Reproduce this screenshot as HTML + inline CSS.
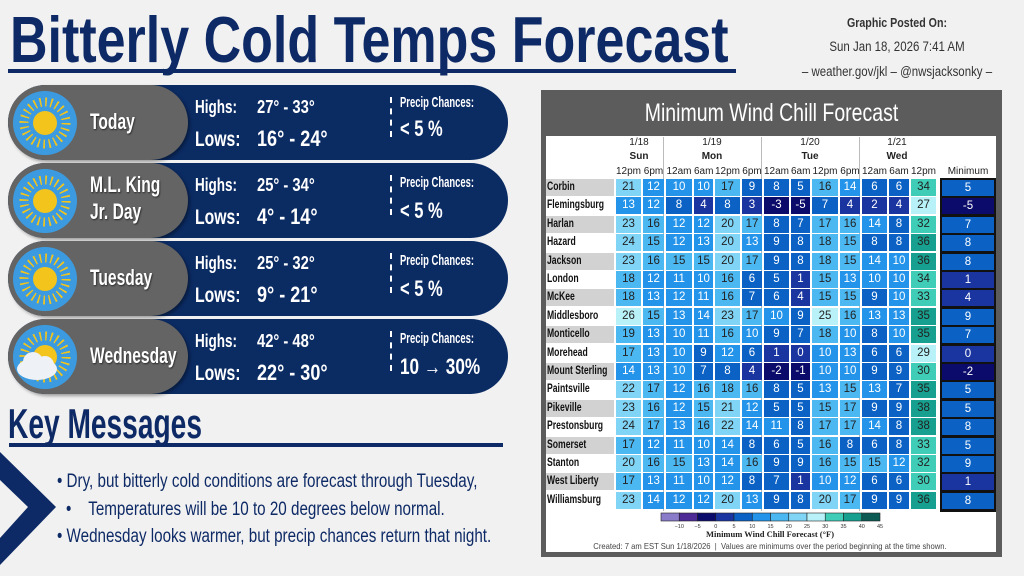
<!DOCTYPE html>
<html><head><meta charset="utf-8"><style>
*{margin:0;padding:0;box-sizing:border-box}
body{width:1024px;height:576px;background:#f1f1f1;position:relative;overflow:hidden;font-family:"Liberation Sans",sans-serif}
.t{position:absolute;white-space:nowrap;line-height:1;transform-origin:0 0}
.b{font-weight:bold}
.w{color:#fff}
.nv{color:#0e2a66}
.card{position:absolute;left:8px;width:500px;height:75px;background:#0b2b63;border-radius:38px}
.pill{position:absolute;left:8px;width:180px;height:75px;background:#646464;border-radius:38px;box-shadow:2px 2px 3px rgba(0,0,0,.35)}
.ico{position:absolute;left:11px}
.dash{position:absolute;left:390px;width:2px;border-left:2px dashed #fff;height:40px}
.sh{text-shadow:1px 1px 2px rgba(0,0,0,.6)}
.row{position:absolute;left:616px;height:17px;display:flex;gap:2px}
.row div{height:17px;font-size:11.5px;line-height:17px;text-align:center;color:#fff}
.row div:nth-child(1){width:25px}.row div:nth-child(2){width:21px}.row div:nth-child(3){width:26px}
.row div:nth-child(4){width:19px}.row div:nth-child(5){width:25px}.row div:nth-child(6){width:20px}
.row div:nth-child(7){width:25px}.row div:nth-child(8){width:19px}.row div:nth-child(9){width:26px}
.row div:nth-child(10){width:20px}.row div:nth-child(11){width:25px}.row div:nth-child(12){width:20px}
.row div:nth-child(13){width:25px}
.nm{position:absolute;left:546px;width:68px;height:17px;font-size:11.5px;font-weight:bold;line-height:17px;color:#111;padding-left:1px;white-space:nowrap}
.nm span{display:inline-block;transform:scaleX(.75);transform-origin:0 50%}
.g{background:#d2d2d2}
.mn{position:absolute;left:942px;width:52px;height:16px;font-size:11.5px;line-height:16px;text-align:center;color:#fff}
.n{background:#0b0b6b}.d{background:#1a35a0}.m{background:#0b62c4}.bb{background:#2394ea}
.l{background:#4cb8f2;color:#222!important}.p{background:#80d4f6;color:#222!important}.q{background:#b8f2f8;color:#222!important}
.tt{background:#3fcdb8;color:#222!important}.u{background:#17a08f;color:#222!important}
.hd{position:absolute;font-size:10px;line-height:1;color:#222;text-align:center;white-space:nowrap}
.vl{position:absolute;top:137px;width:1px;height:374px;background:#bbb}
</style></head><body>

<!-- Title -->
<div class="t b nv" style="left:10px;top:7px;font-size:65px;transform:scaleX(.8)">Bitterly Cold Temps Forecast</div>
<div style="position:absolute;left:8px;top:69px;width:728px;height:4px;background:#0e2a66"></div>

<!-- top right -->
<div class="t b" style="left:777px;top:16px;width:240px;text-align:center;font-size:13px;color:#333;transform:scaleX(.82);transform-origin:50% 0">Graphic Posted On:</div>
<div class="t" style="left:777px;top:40px;width:240px;text-align:center;font-size:13.5px;color:#333;transform:scaleX(.85);transform-origin:50% 0">Sun Jan 18, 2026 7:41 AM</div>
<div class="t" style="left:757px;top:65px;width:280px;text-align:center;font-size:13.5px;color:#333;transform:scaleX(.85);transform-origin:50% 0">– weather.gov/jkl – @nwsjacksonky –</div>

<svg width="0" height="0" style="position:absolute"><defs>
<g id="sun"><circle cx="34" cy="34" r="32" fill="#3c9be0"/>
<circle cx="34" cy="34" r="21" fill="none" stroke="#f2c41c" stroke-width="9" stroke-dasharray="1.6 3.9"/>
<circle cx="34" cy="34" r="12" fill="#f2c41c"/></g>
</defs></svg>

<!-- Card 1 -->
<div class="card" style="top:85px"></div><div class="pill" style="top:85px"></div>
<svg class="ico" style="top:89px" width="68" height="68"><use href="#sun"/></svg>
<div class="t b w sh" style="left:90px;top:111px;font-size:22px;transform:scaleX(.71)">Today</div>
<div class="t b w" style="left:195px;top:98px;font-size:18px;transform:scaleX(.75)">Highs:</div>
<div class="t b w" style="left:257px;top:98px;font-size:18px;transform:scaleX(.82)">27° - 33°</div>
<div class="t b w" style="left:195px;top:129px;font-size:21px;transform:scaleX(.75)">Lows:</div>
<div class="t b w" style="left:257px;top:128px;font-size:22px;transform:scaleX(.82)">16° - 24°</div>
<div class="dash" style="top:97px"></div>
<div class="t b w" style="left:400px;top:95px;font-size:15px;transform:scaleX(.63)">Precip Chances:</div>
<div class="t b w" style="left:400px;top:118px;font-size:22px;transform:scaleX(.75)">&lt; 5 %</div>

<!-- Card 2 -->
<div class="card" style="top:163px"></div><div class="pill" style="top:163px"></div>
<svg class="ico" style="top:167px" width="68" height="68"><use href="#sun"/></svg>
<div class="t b w sh" style="left:90px;top:174px;font-size:22px;transform:scaleX(.71)">M.L. King</div>
<div class="t b w sh" style="left:90px;top:201px;font-size:22px;transform:scaleX(.71)">Jr. Day</div>
<div class="t b w" style="left:195px;top:176px;font-size:18px;transform:scaleX(.75)">Highs:</div>
<div class="t b w" style="left:257px;top:176px;font-size:18px;transform:scaleX(.82)">25° - 34°</div>
<div class="t b w" style="left:195px;top:207px;font-size:21px;transform:scaleX(.75)">Lows:</div>
<div class="t b w" style="left:257px;top:206px;font-size:22px;transform:scaleX(.82)">4° - 14°</div>
<div class="dash" style="top:175px"></div>
<div class="t b w" style="left:400px;top:175px;font-size:15px;transform:scaleX(.63)">Precip Chances:</div>
<div class="t b w" style="left:400px;top:200px;font-size:22px;transform:scaleX(.75)">&lt; 5 %</div>

<!-- Card 3 -->
<div class="card" style="top:241px"></div><div class="pill" style="top:241px"></div>
<svg class="ico" style="top:245px" width="68" height="68"><use href="#sun"/></svg>
<div class="t b w sh" style="left:90px;top:267px;font-size:22px;transform:scaleX(.71)">Tuesday</div>
<div class="t b w" style="left:195px;top:254px;font-size:18px;transform:scaleX(.75)">Highs:</div>
<div class="t b w" style="left:257px;top:254px;font-size:18px;transform:scaleX(.82)">25° - 32°</div>
<div class="t b w" style="left:195px;top:285px;font-size:21px;transform:scaleX(.75)">Lows:</div>
<div class="t b w" style="left:257px;top:284px;font-size:22px;transform:scaleX(.82)">9° - 21°</div>
<div class="dash" style="top:253px"></div>
<div class="t b w" style="left:400px;top:253px;font-size:15px;transform:scaleX(.63)">Precip Chances:</div>
<div class="t b w" style="left:400px;top:278px;font-size:22px;transform:scaleX(.75)">&lt; 5 %</div>

<!-- Card 4 -->
<div class="card" style="top:319px"></div><div class="pill" style="top:319px"></div>
<svg class="ico" style="top:323px" width="68" height="68"><use href="#sun"/>
<ellipse cx="26" cy="46" rx="20" ry="11" fill="#eef2f6"/><circle cx="22" cy="39" r="10" fill="#eef2f6"/><circle cx="34" cy="42" r="9" fill="#eef2f6"/></svg>
<div class="t b w sh" style="left:90px;top:345px;font-size:22px;transform:scaleX(.71)">Wednesday</div>
<div class="t b w" style="left:195px;top:332px;font-size:18px;transform:scaleX(.75)">Highs:</div>
<div class="t b w" style="left:257px;top:332px;font-size:18px;transform:scaleX(.82)">42° - 48°</div>
<div class="t b w" style="left:195px;top:363px;font-size:21px;transform:scaleX(.75)">Lows:</div>
<div class="t b w" style="left:257px;top:362px;font-size:22px;transform:scaleX(.82)">22° - 30°</div>
<div class="dash" style="top:331px"></div>
<div class="t b w" style="left:400px;top:331px;font-size:15px;transform:scaleX(.63)">Precip Chances:</div>
<div class="t b w" style="left:400px;top:356px;font-size:22px;transform:scaleX(.78)">10 → 30%</div>

<!-- Key messages -->
<div class="t b nv" style="left:8px;top:403px;font-size:42px;transform:scaleX(.67)">Key Messages</div>
<div style="position:absolute;left:9px;top:443px;width:494px;height:4px;background:#0e2a66"></div>
<svg style="position:absolute;left:0;top:450px" width="60" height="120"><polygon points="0,2 56,57 0,115 0,88 28,57 0,30" fill="#0e2a66"/></svg>
<div class="t nv" style="left:57px;top:472px;font-size:19px;transform:scaleX(.8)">• Dry, but bitterly cold conditions are forecast through Tuesday,</div>
<div class="t nv" style="left:66px;top:500px;font-size:19px;transform:scaleX(.8)">•&nbsp;&nbsp;&nbsp;&nbsp;Temperatures will be 10 to 20 degrees below normal.</div>
<div class="t nv" style="left:57px;top:527px;font-size:19px;transform:scaleX(.8)">• Wednesday looks warmer, but precip chances return that night.</div>

<!-- Right panel -->
<div style="position:absolute;left:541px;top:90px;width:461px;height:467px;background:#5c5c5c"></div>
<div style="position:absolute;left:546px;top:136px;width:450px;height:416px;background:#fff"></div>
<div class="t w" style="left:541px;top:101px;width:461px;text-align:center;font-size:25px;transform:scaleX(.78);transform-origin:50% 0">Minimum Wind Chill Forecast</div>

<div class="vl" style="left:663px"></div><div class="vl" style="left:761px"></div><div class="vl" style="left:859px"></div>

<div class="hd" style="left:609px;top:138px;width:60px">1/18</div>
<div class="hd" style="left:682px;top:138px;width:60px">1/19</div>
<div class="hd" style="left:780px;top:138px;width:60px">1/20</div>
<div class="hd" style="left:867px;top:138px;width:60px">1/21</div>
<div class="hd b" style="left:609px;top:152px;width:60px">Sun</div>
<div class="hd b" style="left:682px;top:152px;width:60px">Mon</div>
<div class="hd b" style="left:780px;top:152px;width:60px">Tue</div>
<div class="hd b" style="left:867px;top:152px;width:60px">Wed</div>
<div class="row" style="top:166px"><div style="color:#222;height:12px;line-height:12px;font-size:10px">12pm</div><div style="color:#222;height:12px;line-height:12px;font-size:10px">6pm</div><div style="color:#222;height:12px;line-height:12px;font-size:10px">12am</div><div style="color:#222;height:12px;line-height:12px;font-size:10px">6am</div><div style="color:#222;height:12px;line-height:12px;font-size:10px">12pm</div><div style="color:#222;height:12px;line-height:12px;font-size:10px">6pm</div><div style="color:#222;height:12px;line-height:12px;font-size:10px">12am</div><div style="color:#222;height:12px;line-height:12px;font-size:10px">6am</div><div style="color:#222;height:12px;line-height:12px;font-size:10px">12pm</div><div style="color:#222;height:12px;line-height:12px;font-size:10px">6pm</div><div style="color:#222;height:12px;line-height:12px;font-size:10px">12am</div><div style="color:#222;height:12px;line-height:12px;font-size:10px">6am</div><div style="color:#222;height:12px;line-height:12px;font-size:10px">12pm</div></div>
<div class="hd" style="left:938px;top:167px;width:60px">Minimum</div>

<div style="position:absolute;left:940px;top:178px;width:56px;height:334px;background:#111"></div>

<!-- names -->
<div class="nm g" style="top:179px"><span>Corbin</span></div>
<div class="nm" style="top:197.4px"><span>Flemingsburg</span></div>
<div class="nm g" style="top:215.8px"><span>Harlan</span></div>
<div class="nm" style="top:234.2px"><span>Hazard</span></div>
<div class="nm g" style="top:252.6px"><span>Jackson</span></div>
<div class="nm" style="top:271px"><span>London</span></div>
<div class="nm g" style="top:289.4px"><span>McKee</span></div>
<div class="nm" style="top:307.8px"><span>Middlesboro</span></div>
<div class="nm g" style="top:326.2px"><span>Monticello</span></div>
<div class="nm" style="top:344.6px"><span>Morehead</span></div>
<div class="nm g" style="top:363px"><span>Mount Sterling</span></div>
<div class="nm" style="top:381.4px"><span>Paintsville</span></div>
<div class="nm g" style="top:399.8px"><span>Pikeville</span></div>
<div class="nm" style="top:418.2px"><span>Prestonsburg</span></div>
<div class="nm g" style="top:436.6px"><span>Somerset</span></div>
<div class="nm" style="top:455px"><span>Stanton</span></div>
<div class="nm g" style="top:473.4px"><span>West Liberty</span></div>
<div class="nm" style="top:491.8px"><span>Williamsburg</span></div>

<!-- data rows -->
<div class="row" style="top:179px"><div class="p">21</div><div class="bb">12</div><div class="bb">10</div><div class="bb">10</div><div class="l">17</div><div class="m">9</div><div class="m">8</div><div class="m">5</div><div class="l">16</div><div class="bb">14</div><div class="m">6</div><div class="m">6</div><div class="tt">34</div></div>
<div class="row" style="top:197.4px"><div class="bb">13</div><div class="bb">12</div><div class="m">8</div><div class="d">4</div><div class="m">8</div><div class="d">3</div><div class="n">-3</div><div class="n">-5</div><div class="m">7</div><div class="d">4</div><div class="d">2</div><div class="d">4</div><div class="q">27</div></div>
<div class="row" style="top:215.8px"><div class="p">23</div><div class="l">16</div><div class="bb">12</div><div class="bb">12</div><div class="p">20</div><div class="l">17</div><div class="m">8</div><div class="m">7</div><div class="l">17</div><div class="l">16</div><div class="bb">14</div><div class="m">8</div><div class="tt">32</div></div>
<div class="row" style="top:234.2px"><div class="p">24</div><div class="l">15</div><div class="bb">12</div><div class="bb">13</div><div class="p">20</div><div class="bb">13</div><div class="m">9</div><div class="m">8</div><div class="l">18</div><div class="l">15</div><div class="m">8</div><div class="m">8</div><div class="u">36</div></div>
<div class="row" style="top:252.6px"><div class="p">23</div><div class="l">16</div><div class="l">15</div><div class="l">15</div><div class="p">20</div><div class="l">17</div><div class="m">9</div><div class="m">8</div><div class="l">18</div><div class="l">15</div><div class="bb">14</div><div class="bb">10</div><div class="u">36</div></div>
<div class="row" style="top:271px"><div class="l">18</div><div class="bb">12</div><div class="bb">11</div><div class="bb">10</div><div class="l">16</div><div class="m">6</div><div class="m">5</div><div class="d">1</div><div class="l">15</div><div class="bb">13</div><div class="bb">10</div><div class="bb">10</div><div class="tt">34</div></div>
<div class="row" style="top:289.4px"><div class="l">18</div><div class="bb">13</div><div class="bb">12</div><div class="bb">11</div><div class="l">16</div><div class="m">7</div><div class="m">6</div><div class="d">4</div><div class="l">15</div><div class="l">15</div><div class="m">9</div><div class="bb">10</div><div class="tt">33</div></div>
<div class="row" style="top:307.8px"><div class="q">26</div><div class="l">15</div><div class="bb">13</div><div class="bb">14</div><div class="p">23</div><div class="l">17</div><div class="bb">10</div><div class="m">9</div><div class="q">25</div><div class="l">16</div><div class="bb">13</div><div class="bb">13</div><div class="u">35</div></div>
<div class="row" style="top:326.2px"><div class="l">19</div><div class="bb">13</div><div class="bb">10</div><div class="bb">11</div><div class="l">16</div><div class="bb">10</div><div class="m">9</div><div class="m">7</div><div class="l">18</div><div class="bb">10</div><div class="m">8</div><div class="bb">10</div><div class="u">35</div></div>
<div class="row" style="top:344.6px"><div class="l">17</div><div class="bb">13</div><div class="bb">10</div><div class="m">9</div><div class="bb">12</div><div class="m">6</div><div class="d">1</div><div class="d">0</div><div class="bb">10</div><div class="bb">13</div><div class="m">6</div><div class="m">6</div><div class="q">29</div></div>
<div class="row" style="top:363px"><div class="bb">14</div><div class="bb">13</div><div class="bb">10</div><div class="m">7</div><div class="m">8</div><div class="d">4</div><div class="n">-2</div><div class="n">-1</div><div class="bb">10</div><div class="bb">10</div><div class="m">9</div><div class="m">9</div><div class="tt">30</div></div>
<div class="row" style="top:381.4px"><div class="p">22</div><div class="l">17</div><div class="bb">12</div><div class="l">16</div><div class="l">18</div><div class="l">16</div><div class="m">8</div><div class="m">5</div><div class="bb">13</div><div class="l">15</div><div class="bb">13</div><div class="m">7</div><div class="u">35</div></div>
<div class="row" style="top:399.8px"><div class="p">23</div><div class="l">16</div><div class="bb">12</div><div class="l">15</div><div class="p">21</div><div class="bb">12</div><div class="m">5</div><div class="m">5</div><div class="l">15</div><div class="l">17</div><div class="m">9</div><div class="m">9</div><div class="u">38</div></div>
<div class="row" style="top:418.2px"><div class="p">24</div><div class="l">17</div><div class="bb">13</div><div class="l">16</div><div class="p">22</div><div class="bb">14</div><div class="bb">11</div><div class="m">8</div><div class="l">17</div><div class="l">17</div><div class="bb">14</div><div class="m">8</div><div class="u">38</div></div>
<div class="row" style="top:436.6px"><div class="l">17</div><div class="bb">12</div><div class="bb">11</div><div class="bb">10</div><div class="bb">14</div><div class="m">8</div><div class="m">6</div><div class="m">5</div><div class="l">16</div><div class="m">8</div><div class="m">6</div><div class="m">8</div><div class="tt">33</div></div>
<div class="row" style="top:455px"><div class="p">20</div><div class="l">16</div><div class="l">15</div><div class="bb">13</div><div class="bb">14</div><div class="l">16</div><div class="m">9</div><div class="m">9</div><div class="l">16</div><div class="l">15</div><div class="l">15</div><div class="bb">12</div><div class="tt">32</div></div>
<div class="row" style="top:473.4px"><div class="l">17</div><div class="bb">13</div><div class="bb">11</div><div class="bb">10</div><div class="bb">12</div><div class="m">8</div><div class="m">7</div><div class="d">1</div><div class="bb">10</div><div class="bb">12</div><div class="m">6</div><div class="m">6</div><div class="tt">30</div></div>
<div class="row" style="top:491.8px"><div class="p">23</div><div class="bb">14</div><div class="bb">12</div><div class="bb">12</div><div class="p">20</div><div class="bb">13</div><div class="m">9</div><div class="m">8</div><div class="p">20</div><div class="l">17</div><div class="m">9</div><div class="m">9</div><div class="u">36</div></div>

<!-- minimum column -->
<div class="mn m" style="top:180px">5</div>
<div class="mn n" style="top:198.4px">-5</div>
<div class="mn m" style="top:216.8px">7</div>
<div class="mn m" style="top:235.2px">8</div>
<div class="mn m" style="top:253.6px">8</div>
<div class="mn d" style="top:272px">1</div>
<div class="mn d" style="top:290.4px">4</div>
<div class="mn m" style="top:308.8px">9</div>
<div class="mn m" style="top:327.2px">7</div>
<div class="mn d" style="top:345.6px">0</div>
<div class="mn n" style="top:364px">-2</div>
<div class="mn m" style="top:382.4px">5</div>
<div class="mn m" style="top:400.8px">5</div>
<div class="mn m" style="top:419.2px">8</div>
<div class="mn m" style="top:437.6px">5</div>
<div class="mn m" style="top:456px">9</div>
<div class="mn d" style="top:474.4px">1</div>
<div class="mn m" style="top:492.8px">8</div>

<!-- colorbar -->
<svg style="position:absolute;left:655px;top:511px" width="235" height="40">
<g stroke="#222" stroke-width=".6">
<rect x="6" y="2" width="18.25" height="8" fill="#8a7cc8"/><rect x="24.25" y="2" width="18.25" height="8" fill="#4e2a96"/>
<rect x="42.5" y="2" width="18.25" height="8" fill="#0b0b6b"/><rect x="60.75" y="2" width="18.25" height="8" fill="#1a35a0"/>
<rect x="79" y="2" width="18.25" height="8" fill="#0b62c4"/><rect x="97.25" y="2" width="18.25" height="8" fill="#2394ea"/>
<rect x="115.5" y="2" width="18.25" height="8" fill="#4cb8f2"/><rect x="133.75" y="2" width="18.25" height="8" fill="#80d4f6"/>
<rect x="152" y="2" width="18.25" height="8" fill="#b8f2f8"/><rect x="170.25" y="2" width="18.25" height="8" fill="#3fcdb8"/>
<rect x="188.5" y="2" width="18.25" height="8" fill="#17a08f"/><rect x="206.75" y="2" width="18.25" height="8" fill="#0d5a54"/>
</g>
<g font-size="5.5" fill="#333" text-anchor="middle" font-family="Liberation Sans,sans-serif">
<text x="24.25" y="17">−10</text><text x="42.5" y="17">−5</text><text x="60.75" y="17">0</text><text x="79" y="17">5</text>
<text x="97.25" y="17">10</text><text x="115.5" y="17">15</text><text x="133.75" y="17">20</text><text x="152" y="17">25</text>
<text x="170.25" y="17">30</text><text x="188.5" y="17">35</text><text x="206.75" y="17">40</text><text x="225" y="17">45</text>
</g></svg>
<div class="t b" style="left:620px;top:530px;width:300px;text-align:center;font-family:'Liberation Serif',serif;font-size:8.5px;color:#222">Minimum Wind Chill Forecast (°F)</div>
<div class="t" style="left:570px;top:542px;width:400px;text-align:center;font-size:8.5px;color:#444;transform:scaleX(.9);transform-origin:50% 0">Created: 7 am EST Sun 1/18/2026 &nbsp;|&nbsp; Values are minimums over the period beginning at the time shown.</div>

</body></html>
